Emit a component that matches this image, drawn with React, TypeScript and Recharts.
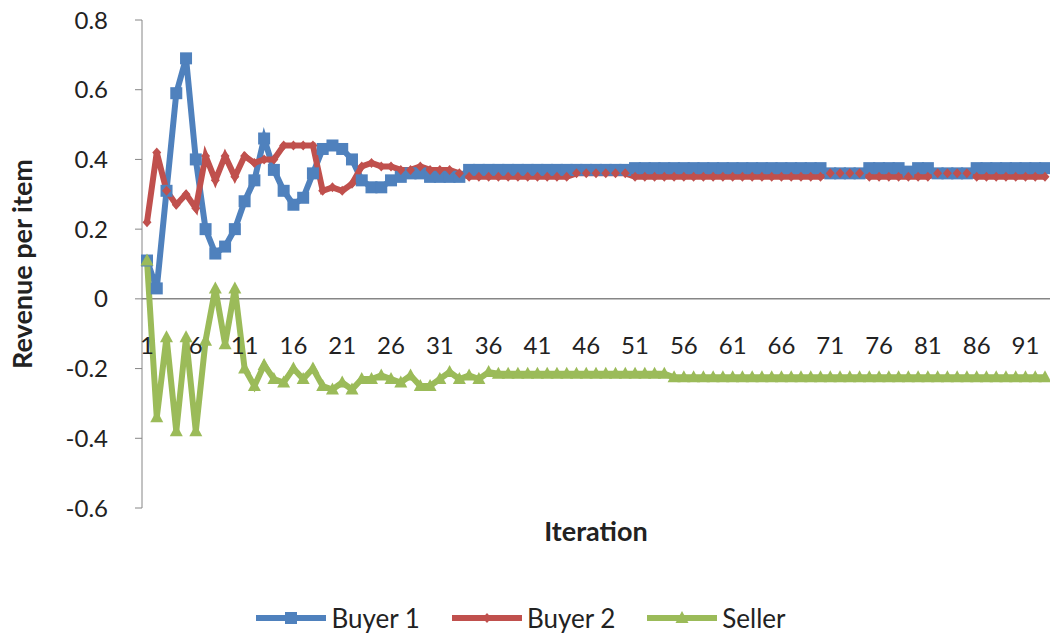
import { Legend, Line, LineChart, ReferenceLine, XAxis, YAxis } from "recharts";

const iterations = Array.from({ length: 93 }, (_, i) => i + 1);

const buyer1 = [
  0.11, 0.03, 0.31, 0.59, 0.69, 0.4, 0.2, 0.13, 0.15, 0.2,
  0.28, 0.34, 0.46, 0.37, 0.31, 0.27, 0.29, 0.36, 0.43, 0.44,
  0.43, 0.4, 0.34, 0.32, 0.32, 0.34, 0.35, 0.36, 0.36, 0.35,
  0.35, 0.35, 0.35, 0.37, 0.37, 0.37, 0.37, 0.37, 0.37, 0.37,
  0.37, 0.37, 0.37, 0.37, 0.37, 0.37, 0.37, 0.37, 0.37, 0.37,
  0.375, 0.375, 0.375, 0.375, 0.375, 0.375, 0.375, 0.375, 0.375, 0.375,
  0.375, 0.375, 0.375, 0.375, 0.375, 0.375, 0.375, 0.375, 0.375, 0.375,
  0.36, 0.36, 0.36, 0.36, 0.375, 0.375, 0.375, 0.375, 0.365, 0.375,
  0.375, 0.36, 0.36, 0.36, 0.36, 0.375, 0.375, 0.375, 0.375, 0.375,
  0.375, 0.375, 0.375,
];

const buyer2 = [
  0.22, 0.42, 0.31, 0.27, 0.3, 0.26, 0.41, 0.34, 0.41, 0.35,
  0.41, 0.39, 0.4, 0.4, 0.44, 0.44, 0.44, 0.44, 0.31, 0.32,
  0.31, 0.33, 0.38, 0.39, 0.38, 0.38, 0.37, 0.37, 0.38, 0.37,
  0.37, 0.37, 0.36, 0.35, 0.35, 0.35, 0.35, 0.35, 0.35, 0.35,
  0.35, 0.35, 0.35, 0.35, 0.36, 0.36, 0.36, 0.36, 0.36, 0.36,
  0.35, 0.35, 0.35, 0.35, 0.35, 0.35, 0.35, 0.35, 0.35, 0.35,
  0.35, 0.35, 0.35, 0.35, 0.35, 0.35, 0.35, 0.35, 0.35, 0.35,
  0.36, 0.36, 0.36, 0.36, 0.35, 0.35, 0.35, 0.35, 0.35, 0.35,
  0.35, 0.36, 0.36, 0.36, 0.36, 0.35, 0.35, 0.35, 0.35, 0.35,
  0.35, 0.35, 0.35,
];

const seller = [
  0.11, -0.34, -0.11, -0.38, -0.11, -0.38, -0.12, 0.03, -0.13, 0.03,
  -0.2, -0.25, -0.19, -0.23, -0.24, -0.2, -0.23, -0.2, -0.25, -0.26,
  -0.24, -0.26, -0.23, -0.23, -0.22, -0.23, -0.24, -0.22, -0.25, -0.25,
  -0.23, -0.21, -0.23, -0.22, -0.23, -0.21, -0.215, -0.215, -0.215, -0.215,
  -0.215, -0.215, -0.215, -0.215, -0.215, -0.215, -0.215, -0.215, -0.215, -0.215,
  -0.215, -0.215, -0.215, -0.215, -0.225, -0.225, -0.225, -0.225, -0.225, -0.225,
  -0.225, -0.225, -0.225, -0.225, -0.225, -0.225, -0.225, -0.225, -0.225, -0.225,
  -0.225, -0.225, -0.225, -0.225, -0.225, -0.225, -0.225, -0.225, -0.225, -0.225,
  -0.225, -0.225, -0.225, -0.225, -0.225, -0.225, -0.225, -0.225, -0.225, -0.225,
  -0.225, -0.225, -0.225,
];

const yTicks = [-0.6, -0.4, -0.2, 0, 0.2, 0.4, 0.6, 0.8];

const BLUE = "#4f81bd";
const RED = "#c0504d";
const GREEN = "#9bbb59";
const AXIS = "#868686";
const FONT = "Lato, 'Open Sans', sans-serif";

const data = iterations.map((it, i) => ({
  iteration: it,
  buyer1: buyer1[i],
  buyer2: buyer2[i],
  seller: seller[i],
}));

function Square({ cx, cy, fill }: any) {
  return <rect x={cx - 6} y={cy - 6} width={12} height={12} fill={fill} />;
}

function Diamond({ cx, cy, fill }: any) {
  return <path d={`M${cx},${cy - 5}L${cx + 4.5},${cy}L${cx},${cy + 5}L${cx - 4.5},${cy}Z`} fill={fill} />;
}

function Triangle({ cx, cy, fill }: any) {
  return <path d={`M${cx},${cy - 7}L${cx + 6.5},${cy + 5}L${cx - 6.5},${cy + 5}Z`} fill={fill} />;
}

const squareDot = (p: any) => <Square key={p.index} cx={p.cx} cy={p.cy} fill={BLUE} />;
const diamondDot = (p: any) => <Diamond key={p.index} cx={p.cx} cy={p.cy} fill={RED} />;
const triangleDot = (p: any) => <Triangle key={p.index} cx={p.cx} cy={p.cy} fill={GREEN} />;

// x labels sit just under the zero line, like in Excel
function XTick({ x, y, payload }: any) {
  return (
    <text x={x} y={y} dy={-154} textAnchor="middle" fill="#222" fontSize={24} fontFamily={FONT}>
      {payload.value}
    </text>
  );
}

const legendItems = [
  { name: "Buyer 1", color: BLUE, Marker: Square },
  { name: "Buyer 2", color: RED, Marker: Diamond },
  { name: "Seller", color: GREEN, Marker: Triangle },
];

function LegendContent() {
  return (
    <div style={{ display: "flex", justifyContent: "center", alignItems: "center", height: 30, paddingLeft: 24 }}>
      {legendItems.map(({ name, color, Marker }) => (
        <div key={name} style={{ display: "flex", alignItems: "center", marginRight: 32 }}>
          <svg width={70} height={20}>
            <line x1={0} y1={10} x2={70} y2={10} stroke={color} strokeWidth={6} />
            <Marker cx={35} cy={10} fill={color} />
          </svg>
          <span style={{ marginLeft: 5, fontFamily: FONT, fontSize: 26, color: "#222" }}>{name}</span>
        </div>
      ))}
    </div>
  );
}

export default function App() {
  return (
    <div style={{ width: 1050, height: 637, background: "#fff" }}>
      <style>{`body{margin:0}`}</style>
      <LineChart width={1050} height={637} data={data} margin={{ top: 20, right: 0, left: 0, bottom: 4 }}>
        <XAxis
          dataKey="iteration"
          interval={4}
          height={95}
          padding={{ left: 5, right: 5 }}
          axisLine={false}
          tickLine={false}
          tickSize={0}
          tickMargin={0}
          tick={<XTick />}
          label={{
            value: "Iteration",
            position: "insideTop",
            offset: 14,
            style: { fontFamily: FONT, fontSize: 27, fontWeight: 700, fill: "#222" },
          }}
        />
        <YAxis
          width={142}
          domain={[-0.6, 0.8]}
          ticks={yTicks}
          allowDataOverflow
          stroke={AXIS}
          tickSize={7}
          tickMargin={27}
          tick={{ fill: "#222", fontSize: 24, fontFamily: FONT }}
          tickFormatter={(v) => String(v)}
          label={{
            value: "Revenue per item",
            angle: -90,
            position: "insideLeft",
            offset: 22,
            style: { textAnchor: "middle", fontFamily: FONT, fontSize: 27, fontWeight: 700, fill: "#222" },
          }}
        />
        <ReferenceLine y={0} stroke={AXIS} strokeWidth={1.5} />
        <Legend verticalAlign="bottom" content={<LegendContent />} />
        <Line dataKey="buyer1" name="Buyer 1" stroke={BLUE} strokeWidth={6} dot={squareDot} activeDot={false} isAnimationActive={false} />
        <Line dataKey="buyer2" name="Buyer 2" stroke={RED} strokeWidth={6} dot={diamondDot} activeDot={false} isAnimationActive={false} />
        <Line dataKey="seller" name="Seller" stroke={GREEN} strokeWidth={6} dot={triangleDot} activeDot={false} isAnimationActive={false} />
      </LineChart>
    </div>
  );
}
